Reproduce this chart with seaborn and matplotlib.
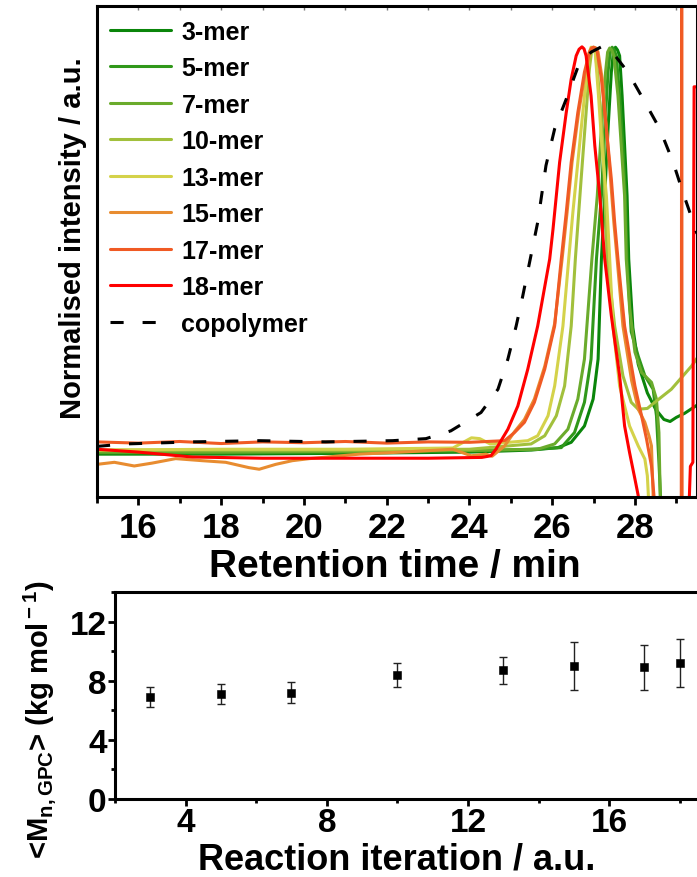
import numpy as np
import pandas as pd
import matplotlib
matplotlib.use('Agg')
import matplotlib.pyplot as plt
from matplotlib.ticker import MultipleLocator
import seaborn as sns

# GPC traces (retention time / min, normalised intensity)
x_3mer = [15.0, 18.0, 21.0, 24.0, 25.5, 26.14, 26.46, 26.78, 26.99, 27.11, 27.19, 27.27, 27.35, 27.43, 27.48,
          27.53, 27.58, 27.63, 27.69, 27.75, 27.81, 27.85, 27.95, 28.08, 28.3, 28.5, 28.7, 28.85, 29.0, 29.2, 29.5]
y_3mer = [0.0, 0.0, 0.002, 0.005, 0.010, 0.016, 0.029, 0.069, 0.135, 0.233, 0.478, 0.633, 0.797, 0.936, 0.985,
          0.997, 0.99, 0.976, 0.878, 0.756, 0.633, 0.478, 0.31, 0.22, 0.15, 0.11, 0.085, 0.08, 0.09, 0.10, 0.12]

x_5mer = [15.0, 18.0, 21.0, 24.0, 25.5, 26.22, 26.54, 26.78, 26.94, 27.07, 27.19, 27.27, 27.35, 27.40, 27.45,
          27.50, 27.55, 27.63, 27.71, 27.77, 27.81, 27.91, 28.08, 28.24, 28.44, 28.52, 28.58, 28.64]
y_5mer = [0.003, 0.003, 0.005, 0.008, 0.012, 0.016, 0.053, 0.127, 0.233, 0.478, 0.633, 0.797, 0.936, 0.985, 0.997,
          0.99, 0.976, 0.878, 0.756, 0.633, 0.478, 0.30, 0.24, 0.192, 0.159, 0.094, -0.02, -0.15]

x_7mer = [15.0, 18.0, 21.0, 24.0, 25.65, 26.06, 26.38, 26.62, 26.78, 26.96, 27.09, 27.19, 27.29, 27.34, 27.39,
          27.44, 27.49, 27.59, 27.67, 27.75, 27.79, 27.87, 28.0, 28.16, 28.40, 28.52, 28.58, 28.62]
y_7mer = [0.005, 0.005, 0.007, 0.009, 0.012, 0.025, 0.061, 0.135, 0.233, 0.478, 0.633, 0.797, 0.936, 0.985, 0.995,
          0.99, 0.976, 0.878, 0.756, 0.633, 0.478, 0.36, 0.25, 0.20, 0.176, 0.135, 0.053, -0.15]

x_10mer = [15.0, 18.0, 21.0, 24.0, 25.49, 25.82, 26.10, 26.30, 26.46, 26.56, 26.70, 26.82, 26.90, 26.95, 27.0,
           27.05, 27.11, 27.23, 27.33, 27.51, 27.71, 27.91, 28.08, 28.30, 28.48, 28.88, 29.37, 29.5]
y_10mer = [0.010, 0.010, 0.010, 0.012, 0.025, 0.045, 0.094, 0.167, 0.314, 0.478, 0.674, 0.837, 0.944, 0.985, 0.997,
           0.98, 0.919, 0.756, 0.478, 0.314, 0.192, 0.127, 0.110, 0.112, 0.127, 0.159, 0.216, 0.235]

x_13mer = [15.0, 18.0, 21.0, 23.6, 24.05, 24.25, 24.5, 25.41, 25.65, 25.90, 26.06, 26.26, 26.40, 26.50,
           26.62, 26.74, 26.85, 26.89, 26.94, 26.99, 27.04, 27.12, 27.20, 27.31, 27.39, 27.47, 27.63, 27.87,
           28.08, 28.24, 28.30, 28.35]
y_13mer = [0.010, 0.012, 0.012, 0.015, 0.040, 0.038, 0.025, 0.033, 0.045, 0.094, 0.167, 0.314, 0.478, 0.592,
           0.715, 0.837, 0.944, 0.982, 0.997, 0.995, 0.985, 0.878, 0.756, 0.633, 0.478, 0.314, 0.167, 0.069,
           0.020, -0.012, -0.053, -0.15]

x_15mer = [15.0, 15.42, 15.9, 16.33, 16.9, 17.54, 18.11, 18.67, 18.92, 19.32, 19.72, 20.13, 21.34, 22.55,
           23.6, 24.04, 24.40, 24.55, 24.85, 25.09, 25.33, 25.57, 25.82, 26.06, 26.24, 26.36, 26.48, 26.64,
           26.80, 26.92, 27.01, 27.06, 27.11, 27.21, 27.31, 27.41, 27.49, 27.57, 27.71, 27.92, 28.08, 28.24,
           28.34, 28.40, 28.44, 28.45]
y_15mer = [-0.025, -0.020, -0.029, -0.022, -0.011, -0.016, -0.020, -0.033, -0.037, -0.025, -0.016, -0.011,
           0.0, 0.006, 0.012, -0.004, 0.0, -0.005, 0.020, 0.055, 0.085, 0.135, 0.215, 0.32, 0.478, 0.592,
           0.715, 0.837, 0.936, 0.985, 0.997, 0.995, 0.985, 0.919, 0.80, 0.674, 0.568, 0.478, 0.314, 0.18,
           0.110, 0.078, 0.045, 0.020, -0.102, -0.15]

x_17mer = [15.0, 16.0, 17.0, 18.0, 19.0, 20.0, 21.0, 22.0, 23.0, 24.0, 24.85, 25.09, 25.33, 25.57, 25.82,
           26.06, 26.22, 26.34, 26.46, 26.62, 26.78, 26.90, 26.95, 26.99, 27.04, 27.09, 27.19, 27.31, 27.43,
           27.51, 27.59, 27.75, 28.00, 28.16, 28.28, 28.40, 28.46, 28.48, 29.12, 29.13, 29.14]
y_17mer = [0.030, 0.027, 0.031, 0.026, 0.030, 0.028, 0.031, 0.027, 0.030, 0.029, 0.033, 0.053, 0.078, 0.127,
           0.208, 0.314, 0.478, 0.592, 0.715, 0.837, 0.936, 0.985, 0.995, 0.997, 0.995, 0.985, 0.919, 0.797,
           0.674, 0.568, 0.478, 0.314, 0.167, 0.094, 0.037, -0.029, -0.102, -0.15, -0.15, 1.2, -0.15]

x_18mer = [15.0, 16.0, 17.3, 19.0, 21.0, 23.0, 24.3, 24.52, 24.64, 24.93, 25.17, 25.41, 25.65, 25.94,
           26.02, 26.18, 26.34, 26.46, 26.58, 26.65, 26.72, 26.77, 26.82, 26.94, 27.03, 27.15, 27.27, 27.43,
           27.63, 27.75, 27.87, 28.00, 28.08, 28.12, 29.30, 29.34, 29.40, 29.43, 29.5]
y_18mer = [0.012, 0.005, -0.007, -0.010, -0.010, -0.010, -0.008, -0.004, 0.012, 0.061, 0.118, 0.208, 0.314,
           0.478, 0.551, 0.715, 0.837, 0.919, 0.976, 0.992, 0.998, 0.993, 0.976, 0.878, 0.756, 0.633, 0.478,
           0.339, 0.192, 0.069, 0.004, -0.061, -0.102, -0.15, -0.15, -0.03, -0.02, 0.9, 0.9]

x_copo = [15.0, 15.69, 17.30, 18.92, 20.53, 22.14, 22.95, 23.55, 24.28, 24.69, 24.93, 25.13, 25.29, 25.47,
          25.65, 25.85, 26.06, 26.34, 26.62, 26.94, 27.19, 27.43, 27.83, 28.20, 28.60, 28.92, 29.16, 29.41, 29.5]
y_copo = [0.019, 0.025, 0.030, 0.033, 0.030, 0.033, 0.038, 0.057, 0.102, 0.159, 0.233, 0.314, 0.388, 0.478,
          0.568, 0.707, 0.797, 0.870, 0.948, 0.985, 0.998, 0.988, 0.936, 0.870, 0.797, 0.716, 0.641, 0.568, 0.54]

traces = [
    ("3-mer", x_3mer, y_3mer, "#0a850a"),
    ("5-mer", x_5mer, y_5mer, "#30981a"),
    ("7-mer", x_7mer, y_7mer, "#6aab2c"),
    ("10-mer", x_10mer, y_10mer, "#a2c03c"),
    ("13-mer", x_13mer, y_13mer, "#d4d24a"),
    ("15-mer", x_15mer, y_15mer, "#e88c30"),
    ("17-mer", x_17mer, y_17mer, "#f05a24"),
    ("18-mer", x_18mer, y_18mer, "#ff0000"),
]

# Mn from GPC vs reaction iteration
iteration = [3, 5, 7, 10, 13, 15, 17, 18]
mn_gpc = [6.9, 7.1, 7.2, 8.4, 8.7, 9.0, 8.9, 9.2]
mn_err = [0.7, 0.7, 0.7, 0.8, 0.9, 1.6, 1.5, 1.6]

sns.set_style("ticks")
plt.rcParams['font.family'] = ['Liberation Sans', 'DejaVu Sans']
plt.rcParams['font.weight'] = 'bold'
plt.rcParams['text.color'] = 'black'
plt.rcParams['axes.labelcolor'] = 'black'
plt.rcParams['xtick.color'] = 'black'
plt.rcParams['ytick.color'] = 'black'
plt.rcParams['axes.edgecolor'] = 'black'
plt.rcParams['mathtext.fontset'] = 'custom'
plt.rcParams['mathtext.rm'] = 'Liberation Sans:bold'
plt.rcParams['mathtext.it'] = 'Liberation Sans:bold'
plt.rcParams['mathtext.bf'] = 'Liberation Sans:bold'

W, H = 697, 878
fig = plt.figure(figsize=(W / 100, H / 100), dpi=100)

# ---- top panel: GPC traces ----
ax1 = fig.add_axes([97 / W, 1 - 498 / H, 600 / W, 491 / H])
for name, xs, ys, col in traces:
    sns.lineplot(x=xs, y=ys, ax=ax1, color=col, lw=2.2, label=name, sort=False, estimator=None)
sns.lineplot(x=x_copo, y=y_copo, ax=ax1, color='black', lw=2.2, label='copolymer', sort=False,
             estimator=None)
ax1.lines[-1].set_dashes((4.3, 6.2))

ax1.set_xlim(15, 29.5)
ax1.set_ylim(-0.105, 1.098)
ax1.set_yticks([])
ax1.xaxis.set_major_locator(MultipleLocator(2))
ax1.xaxis.set_minor_locator(MultipleLocator(1))
ax1.tick_params(axis='x', which='major', direction='out', length=6, width=2, labelsize=25, pad=4)
ax1.tick_params(axis='x', which='minor', direction='out', length=4, width=2)
top = ax1.secondary_xaxis('top')
top.xaxis.set_major_locator(MultipleLocator(1))
top.tick_params(direction='in', length=3, width=1, color='#777777', labeltop=False)
top.spines['top'].set_visible(False)
for sp in ax1.spines.values():
    sp.set_linewidth(2.2)
    sp.set_visible(True)
ax1.set_xlabel("Retention time / min", fontsize=28, fontweight='bold')
ax1.xaxis.set_label_coords(0.497, -0.103)
ax1.set_ylabel("Normalised intensity / a.u.", fontsize=21, fontweight='bold')
ax1.yaxis.set_label_coords(-0.016, 0.53)

leg = ax1.legend(loc='upper left', bbox_to_anchor=(0.022, 0.972), frameon=False, fontsize=18,
                 handlelength=2.45, handletextpad=0.4, labelspacing=0.5, borderaxespad=0, borderpad=0)
for t in leg.get_texts():
    t.set_fontweight('bold')

# ---- bottom panel: Mn vs iteration ----
ax2 = fig.add_axes([115 / W, 1 - 800 / H, 600 / W, 207 / H])
sns.scatterplot(x=iteration, y=mn_gpc, ax=ax2, marker='s', color='black', s=26, edgecolor='black',
                zorder=3)
ax2.errorbar(iteration, mn_gpc, yerr=mn_err, fmt='none', ecolor='#222222', elinewidth=1.0,
             capsize=2.8, capthick=1.0)
ax2.set_xlim(2, 19)
ax2.set_ylim(0, 14)
ax2.xaxis.set_major_locator(MultipleLocator(4))
ax2.xaxis.set_minor_locator(MultipleLocator(2))
ax2.yaxis.set_major_locator(MultipleLocator(4))
ax2.yaxis.set_minor_locator(MultipleLocator(2))
ax2.tick_params(which='major', direction='out', length=5, width=2, labelsize=24, pad=1)
ax2.tick_params(which='minor', direction='out', length=3, width=2)
for sp in ax2.spines.values():
    sp.set_linewidth(2.2)
ax2.set_xlabel("Reaction iteration / a.u.", fontsize=26, fontweight='bold')
ax2.xaxis.set_label_coords(0.47, -0.207)
ax2.set_ylabel(r"<M$_{\rm n,GPC}$> (kg mol$^{\rm -1}$)", fontsize=21, fontweight='bold')
ax2.yaxis.set_label_coords(-0.095, 0.39)

fig.savefig("out.png", dpi=100)
